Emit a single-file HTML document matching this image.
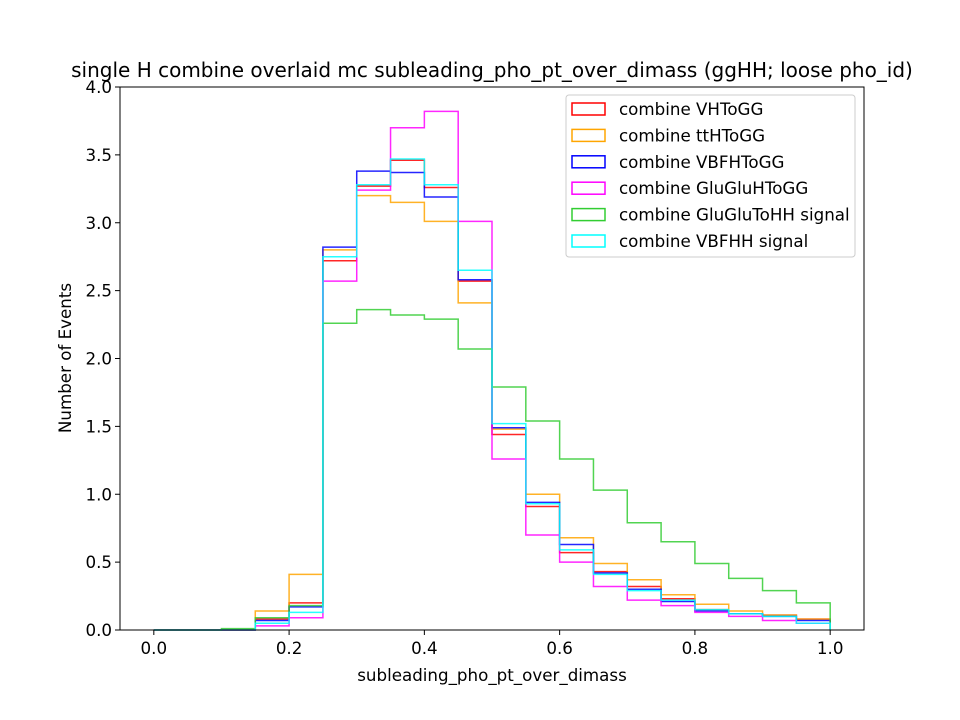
<!DOCTYPE html>
<html><head><meta charset="utf-8"><style>body{margin:0;background:#fff}svg{display:block;font-family:"DejaVu Sans","Liberation Sans",sans-serif}</style></head>
<body>
<svg id="c" width="960" height="720" xmlns="http://www.w3.org/2000/svg">
<rect width="960" height="720" fill="#fff"/>
<text x="492" y="77" text-anchor="middle" font-size="20">single H combine overlaid mc subleading_pho_pt_over_dimass (ggHH; loose pho_id)</text>
<g id="plot"></g>
<rect x="120" y="87" width="744" height="543" fill="none" stroke="#000" stroke-width="1"/>
<g id="axes"></g>
<text x="492" y="681" text-anchor="middle" font-size="16.7">subleading_pho_pt_over_dimass</text>
<text transform="translate(71,358) rotate(-90)" text-anchor="middle" font-size="16.7">Number of Events</text>
<g id="legend"></g>
</svg>
<script>
const binEdges = [0,0.05,0.1,0.15,0.2,0.25,0.3,0.35,0.4,0.45,0.5,0.55,0.6,0.65,0.7,0.75,0.8,0.85,0.9,0.95,1.0];
const seriesNames = ["combine VHToGG","combine ttHToGG","combine VBFHToGG","combine GluGluHToGG","combine GluGluToHH signal","combine VBFHH signal"];
const seriesColors = ["#ff0000","#ffa500","#0000ff","#ff00ff","#32cd32","#00ffff"];
const vhValues = [0,0,0,0.08,0.2,2.72,3.27,3.46,3.26,2.57,1.44,0.91,0.57,0.43,0.32,0.23,0.15,0.12,0.11,0.08];
const tthValues = [0,0,0,0.14,0.41,2.80,3.20,3.15,3.01,2.41,1.48,1.00,0.68,0.49,0.37,0.26,0.19,0.14,0.11,0.08];
const vbfhValues = [0,0,0,0.07,0.17,2.82,3.38,3.37,3.19,2.58,1.49,0.94,0.63,0.42,0.30,0.21,0.14,0.12,0.10,0.07];
const gghValues = [0,0,0,0.03,0.09,2.57,3.24,3.70,3.82,3.01,1.26,0.70,0.50,0.32,0.22,0.18,0.13,0.10,0.07,0.05];
const gghhValues = [0,0,0.01,0.09,0.18,2.26,2.36,2.32,2.29,2.07,1.79,1.54,1.26,1.03,0.79,0.65,0.49,0.38,0.29,0.20];
const vbfhhValues = [0,0,0,0.05,0.13,2.75,3.28,3.47,3.28,2.65,1.52,0.93,0.59,0.41,0.29,0.22,0.15,0.12,0.10,0.05];
const xTicks = [0,0.2,0.4,0.6,0.8,1.0];
const xTickLabels = ["0.0","0.2","0.4","0.6","0.8","1.0"];
const yTicks = [0,0.5,1,1.5,2,2.5,3,3.5,4];
const yTickLabels = ["0.0","0.5","1.0","1.5","2.0","2.5","3.0","3.5","4.0"];

const NS="http://www.w3.org/2000/svg";
const X0=120,X1=864,Y0=630,Y1=87;
const xMin=-0.05,xMax=1.05,yMin=0,yMax=4.0;
function sx(v){return X0+(v-xMin)/(xMax-xMin)*(X1-X0);}
function sy(v){return Y0-(v-yMin)/(yMax-yMin)*(Y0-Y1);}
function mk(tag,attrs,parent){const e=document.createElementNS(NS,tag);for(const k in attrs)e.setAttribute(k,attrs[k]);parent.appendChild(e);return e;}

const allSeries=[vhValues,tthValues,vbfhValues,gghValues,gghhValues,vbfhhValues];
const keys=["vh","tth","vbfh","ggh","gghh","vbfhh"];
const plot=document.getElementById('plot');
allSeries.forEach((vals,i)=>{
  let d="M"+sx(binEdges[0])+","+sy(0);
  vals.forEach((v,j)=>{d+=" L"+sx(binEdges[j])+","+sy(v)+" L"+sx(binEdges[j+1])+","+sy(v);});
  d+=" L"+sx(binEdges[binEdges.length-1])+","+sy(0);
  const p=mk('path',{d:d,fill:"none",stroke:seriesColors[i],"stroke-width":1.5,"stroke-opacity":0.85},plot);
  
  
});

const axes=document.getElementById('axes');
xTicks.forEach((t,i)=>{
  const x=sx(t);
  const l=mk('line',{x1:x,x2:x,y1:Y0,y2:Y0+5,stroke:"#000"},axes);
  
  
  const tx=mk('text',{x:x,y:Y0+24,"text-anchor":"middle","font-size":16.7},axes);
  tx.textContent=xTickLabels[i];
  
  
});
yTicks.forEach((t,i)=>{
  const y=sy(t);
  const l=mk('line',{x1:X0-5,x2:X0,y1:y,y2:y,stroke:"#000"},axes);
  
  
  const tx=mk('text',{x:X0-8,y:y+6,"text-anchor":"end","font-size":16.7},axes);
  tx.textContent=yTickLabels[i];
  
  
});

const lg=document.getElementById('legend');
const box=mk('rect',{x:566,y:95,width:289,height:162,rx:3,fill:"#fff","fill-opacity":0.8,stroke:"#ccc"},lg);


seriesNames.forEach((n,i)=>{
  const y=109+i*26.4;
  const r=mk('rect',{x:572,y:y-6,width:33,height:12,fill:"none",stroke:seriesColors[i],"stroke-width":1.5},lg);
  
  
  const t=mk('text',{x:619,y:y+6,"font-size":16.7},lg);
  t.textContent=n;
  
  
});
</script>
</body></html>
